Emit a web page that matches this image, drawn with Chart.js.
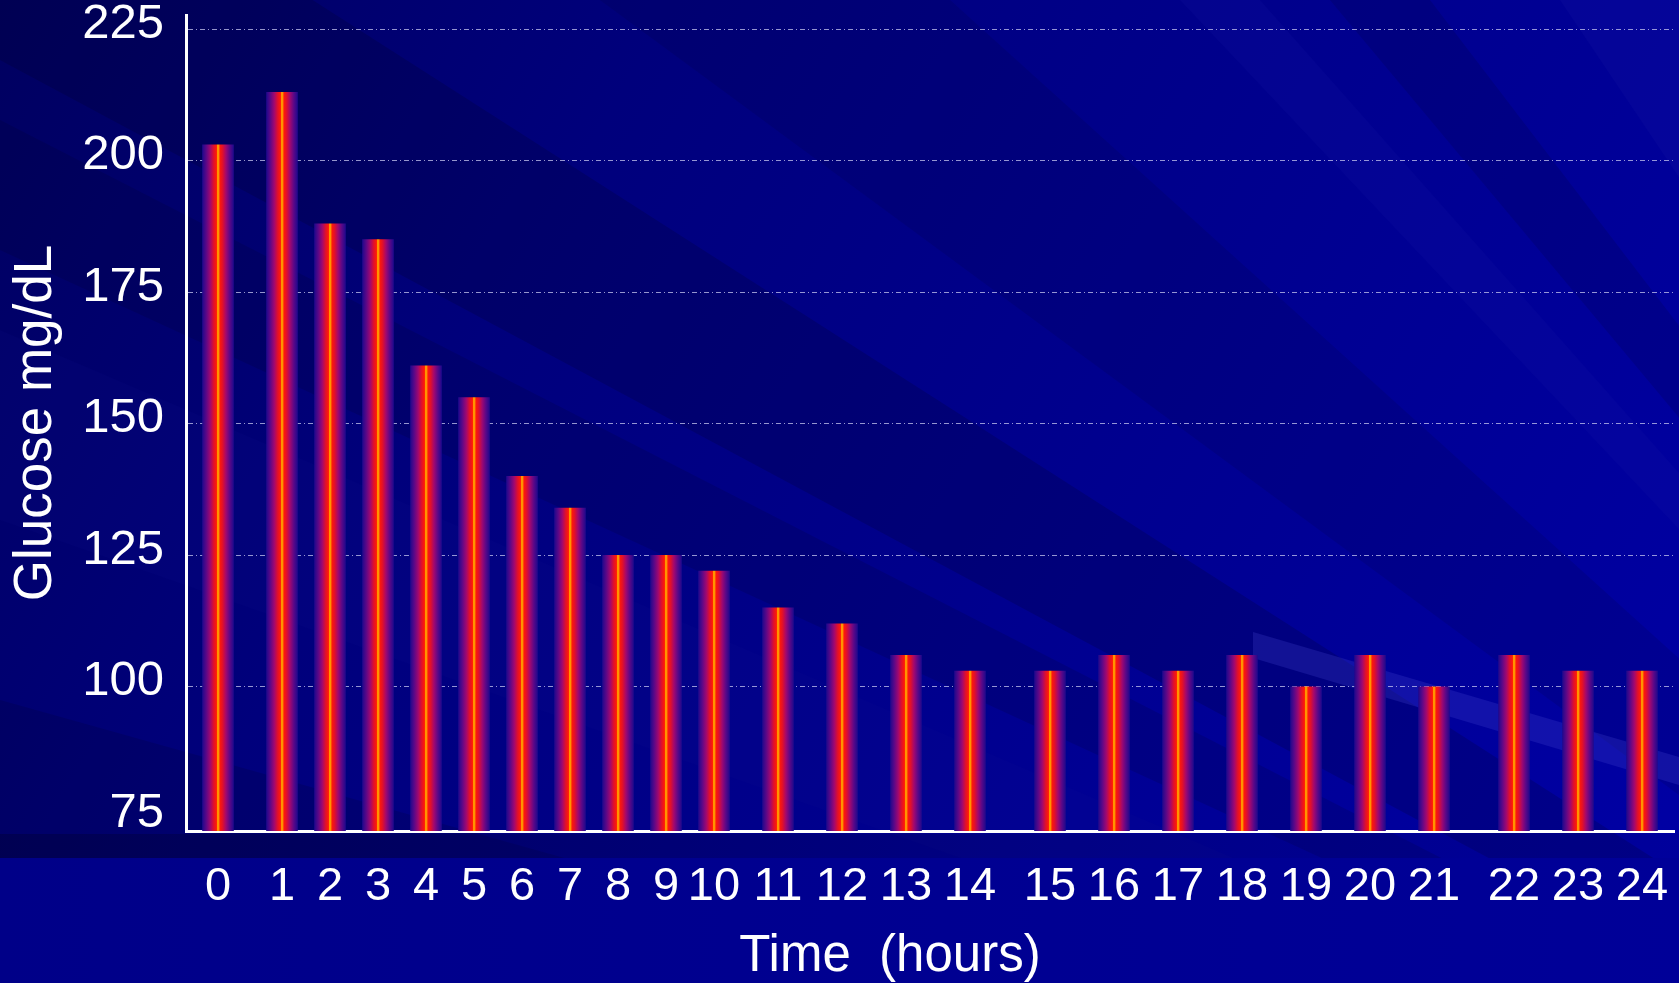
<!DOCTYPE html>
<html>
<head>
<meta charset="utf-8">
<title>Glucose over 24 hours</title>
<script src="https://cdn.jsdelivr.net/npm/chart.js@4.4.1/dist/chart.umd.min.js"></script>
<style>
  html, body { margin: 0; padding: 0; background: #00006a; overflow: hidden; }
  #wrap { width: 1679px; height: 983px; }
</style>
</head>
<body>
<div id="wrap"><canvas id="glucoseChart" width="1679" height="983"></canvas></div>
<script>
// hour labels under the bars
const hours = ['0', '1', '2', '3', '4', '5', '6', '7', '8', '9', '10', '11', '12',
               '13', '14', '15', '16', '17', '18', '19', '20', '21', '22', '23', '24'];
// where each bar sits on the x axis (the slide spaces them unevenly)
const barSlot = [0, 4, 7, 10, 13, 16, 19, 22, 25, 28, 31, 35, 39, 43, 47, 52, 56, 60, 64, 68, 72, 76, 81, 85, 89];
// glucose readings in mg/dL
const glucose = [203, 213, 188, 185, 161, 155, 140, 134, 125, 125, 122, 115, 112,
                 106, 103, 103, 106, 103, 106, 100, 106, 100, 106, 103, 103];
const yTicks = [75, 100, 125, 150, 175, 200, 225];

const FONT = '"Liberation Sans", Arial, sans-serif';

// dark blue slide background with diagonal streaks
const slideBackground = {
  id: 'slideBackground',
  beforeDraw(chart) {
    const {ctx, width, height} = chart;
    ctx.save();
    let g = ctx.createLinearGradient(0, 0, width, height);
    g.addColorStop(0, '#000060');
    g.addColorStop(0.3, '#00007c');
    g.addColorStop(1, '#0000a6');
    ctx.fillStyle = g;
    ctx.fillRect(0, 0, width, height);

    // streaks fanning out from a point off the lower right corner
    const fx = 2500, fy = 1400;
    const wedges = [
      [[0, 700], [0, 880], 'rgba(0,0,40,0.16)'],
      [[0, 330], [0, 520], 'rgba(20,20,150,0.10)'],
      [[0, 120], [0, 250], 'rgba(0,0,30,0.14)'],
      [[0, -200], [0, 60], 'rgba(0,0,30,0.18)'],
      [[600, 0], [950, 0], 'rgba(0,0,40,0.12)'],
      [[1180, 0], [1260, 0], 'rgba(30,30,170,0.14)'],
      [[1330, 0], [1430, 0], 'rgba(0,0,50,0.16)'],
      [[1560, 0], [1700, 0], 'rgba(30,30,170,0.16)']
    ];
    wedges.forEach(w => {
      ctx.beginPath();
      ctx.moveTo(fx, fy);
      ctx.lineTo(w[0][0], w[0][1]);
      ctx.lineTo(w[1][0], w[1][1]);
      ctx.closePath();
      ctx.fillStyle = w[2];
      ctx.fill();
    });

    // pale band in the lower right
    ctx.beginPath();
    ctx.moveTo(1253, 632);
    ctx.lineTo(1679, 757);
    ctx.lineTo(1679, 785);
    ctx.lineTo(1253, 658);
    ctx.closePath();
    ctx.fillStyle = 'rgba(70,70,210,0.25)';
    ctx.fill();

    // strip under the plot
    g = ctx.createLinearGradient(0, 0, width, 0);
    g.addColorStop(0, 'rgba(0,0,50,0.40)');
    g.addColorStop(1, 'rgba(0,0,90,0.10)');
    ctx.fillStyle = g;
    ctx.fillRect(0, 834, width, 24);
    g = ctx.createLinearGradient(0, 0, width, 0);
    g.addColorStop(0, '#000088');
    g.addColorStop(1, '#000098');
    ctx.fillStyle = g;
    ctx.fillRect(0, 858, width, height - 858);
    ctx.restore();
  }
};

// x axis title, placed where the slide has it
const timeTitle = {
  id: 'timeTitle',
  afterDraw(chart) {
    const ctx = chart.ctx;
    ctx.save();
    ctx.font = '51px ' + FONT;
    ctx.fillStyle = '#ffffff';
    ctx.textAlign = 'center';
    ctx.textBaseline = 'alphabetic';
    ctx.fillText('Time  (hours)', 890, 971);
    ctx.restore();
  }
};

// purple -> red -> orange stripe across each bar
function barFill(c) {
  const chart = c.chart;
  const xs = chart.scales.x;
  if (c.type !== 'data' || !xs) return '#c01040';
  const cx = xs.getPixelForValue(barSlot[c.dataIndex]);
  if (!Number.isFinite(cx)) return '#c01040';
  const g = chart.ctx.createLinearGradient(cx - 15.5, 0, cx + 15.5, 0);
  g.addColorStop(0.00, '#22088c');
  g.addColorStop(0.12, '#5a0888');
  g.addColorStop(0.25, '#a00870');
  g.addColorStop(0.36, '#e0102c');
  g.addColorStop(0.45, '#ff1a08');
  g.addColorStop(0.48, '#ff9400');
  g.addColorStop(0.53, '#ff9400');
  g.addColorStop(0.56, '#ff1a08');
  g.addColorStop(0.65, '#e0102c');
  g.addColorStop(0.76, '#a00870');
  g.addColorStop(0.88, '#5a0888');
  g.addColorStop(1.00, '#22088c');
  return g;
}

const ctx = document.getElementById('glucoseChart');

new Chart(ctx, {
  type: 'bar',
  data: {
    datasets: [{
      label: 'Glucose',
      data: glucose.map((v, i) => ({x: barSlot[i], y: v})),
      backgroundColor: barFill,
      borderWidth: 0,
      barThickness: 31
    }]
  },
  options: {
    responsive: false,
    animation: false,
    devicePixelRatio: 1,
    layout: { padding: { top: 15, right: 5, left: 0, bottom: 0 } },
    plugins: {
      legend: { display: false },
      tooltip: { enabled: false }
    },
    scales: {
      x: {
        type: 'linear',
        min: -2,
        max: 91,
        offset: false,
        afterBuildTicks: (scale) => { scale.ticks = barSlot.map(v => ({value: v})); },
        afterFit: (scale) => {
          scale.height = 152;
          scale.paddingLeft = 0;
          scale.paddingRight = 0;
        },
        grid: { display: false, drawTicks: false },
        border: { display: true, color: '#ffffff', width: 3 },
        ticks: {
          autoSkip: false,
          maxRotation: 0,
          padding: 28,
          color: '#ffffff',
          font: { family: FONT, size: 47 },
          callback: (v, i) => hours[i]
        }
      },
      y: {
        min: 72.6,
        max: 227.7,
        afterBuildTicks: (scale) => { scale.ticks = yTicks.map(v => ({value: v})); },
        afterFit: (scale) => {
          scale.width = 186;
          scale.paddingTop = 0;
          scale.paddingBottom = 0;
        },
        grid: {
          drawTicks: false,
          lineWidth: 1,
          color: (c) => (c.tick && c.tick.value === 75) ? 'rgba(0,0,0,0)' : 'rgba(200,200,240,0.75)'
        },
        border: { display: true, color: '#ffffff', width: 3, dash: [5, 3, 1, 3] },
        ticks: {
          padding: 22,
          labelOffset: -5,
          color: '#ffffff',
          font: { family: FONT, size: 49 }
        },
        title: {
          display: true,
          text: 'Glucose mg/dL',
          color: '#ffffff',
          font: { family: FONT, size: 53 },
          padding: { top: 5, bottom: 0 }
        }
      }
    }
  },
  plugins: [slideBackground, timeTitle]
});
</script>
</body>
</html>
